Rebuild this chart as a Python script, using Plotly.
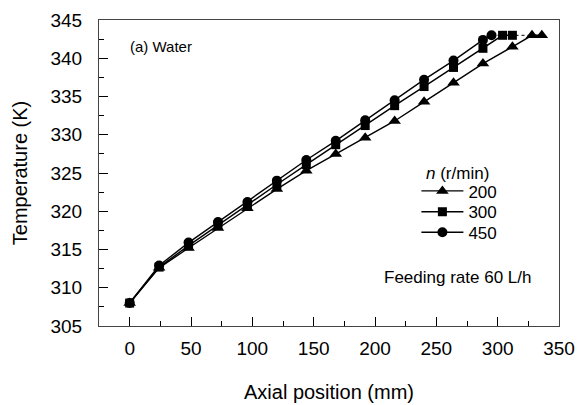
import plotly.graph_objects as go

# Data
x_common = [0, 24, 48, 72, 96, 120, 144, 168, 192, 216, 240, 264, 288]
x_200 = x_common + [312, 328, 336]
t_200 = [308.0, 312.6, 315.2, 317.8, 320.4, 322.9, 325.3, 327.5, 329.6, 331.8, 334.3, 336.8, 339.3, 341.5, 343.0, 343.0]
x_300 = x_common + [304, 312]
t_300 = [308.0, 312.7, 315.5, 318.2, 320.8, 323.5, 326.1, 328.7, 331.2, 333.8, 336.3, 338.8, 341.3, 343.0, 343.0]
x_450 = x_common + [295]
t_450 = [308.0, 312.9, 315.9, 318.6, 321.2, 324.0, 326.7, 329.2, 331.9, 334.5, 337.2, 339.7, 342.4, 343.0]
x_sat = [295, 336]
t_sat = [343.0, 343.0]

series_names = ["200", "300", "450"]
symbols = ["triangle-up", "square", "circle"]
sizes = [11, 9, 10]
legend_ids = ["legend", "legend2", "legend3"]
legend_y = [0.440, 0.372, 0.305]

FONT = "Liberation Sans, Arial, sans-serif"

fig = go.Figure()
fig.add_trace(go.Scatter(x=x_sat, y=t_sat, mode="lines",
                         line=dict(color="black", width=1, dash="dot"),
                         showlegend=False, hoverinfo="skip"))
for xs, ys, name, sym, sz, lg in zip([x_200, x_300, x_450], [t_200, t_300, t_450],
                                     series_names, symbols, sizes, legend_ids):
    fig.add_trace(go.Scatter(x=xs, y=ys, mode="lines+markers", name=name, legend=lg,
                             line=dict(color="black", width=1.4),
                             marker=dict(symbol=sym, size=sz, color="black")))

axis_common = dict(showline=True, linecolor="#444", linewidth=1, mirror=True,
                   ticks="inside", tickcolor="black", tickwidth=1,
                   showgrid=False, zeroline=False, automargin=False,
                   tickfont=dict(family=FONT, size=19, color="black"))

fig.update_xaxes(range=[-25, 350], tickvals=[0, 50, 100, 150, 200, 250, 300, 350],
                 ticklen=9, ticklabelstandoff=5,
                 minor=dict(ticks="inside", ticklen=5, tickcolor="black", dtick=25, tick0=0),
                 title=dict(text="Axial position (mm)", font=dict(family=FONT, size=20, color="black"),
                            standoff=27),
                 **axis_common)
fig.update_yaxes(range=[305, 345], tickvals=[305, 310, 315, 320, 325, 330, 335, 340, 345],
                 ticklen=9, ticklabelstandoff=12,
                 minor=dict(ticks="inside", ticklen=5, tickcolor="black", dtick=2.5, tick0=305),
                 title=dict(text="Temperature (K)", font=dict(family=FONT, size=20, color="black"),
                            standoff=17),
                 **axis_common)

legend_common = dict(x=0.690, xanchor="left", yanchor="middle",
                     font=dict(family=FONT, size=17), itemwidth=42,
                     bgcolor="rgba(0,0,0,0)")
layout_legends = {lg: dict(y=ly, **legend_common) for lg, ly in zip(legend_ids, legend_y)}

fig.update_layout(
    width=578, height=405,
    margin=dict(l=99, r=19, t=20, b=79),
    plot_bgcolor="white", paper_bgcolor="white",
    font=dict(family=FONT, color="black"),
    showlegend=True,
    annotations=[
        dict(text="(a) Water", x=0.062, y=0.912, xref="paper", yref="paper",
             xanchor="left", yanchor="middle", showarrow=False,
             font=dict(family=FONT, size=15)),
        dict(text="<i>n</i> (r/min)", x=0.779, y=0.500, xref="paper", yref="paper",
             xanchor="center", yanchor="middle", showarrow=False,
             font=dict(family=FONT, size=17)),
        dict(text="Feeding rate 60 L/h", x=0.779, y=0.158, xref="paper", yref="paper",
             xanchor="center", yanchor="middle", showarrow=False,
             font=dict(family=FONT, size=17)),
    ],
    **layout_legends,
)

fig.write_html("out.html")
